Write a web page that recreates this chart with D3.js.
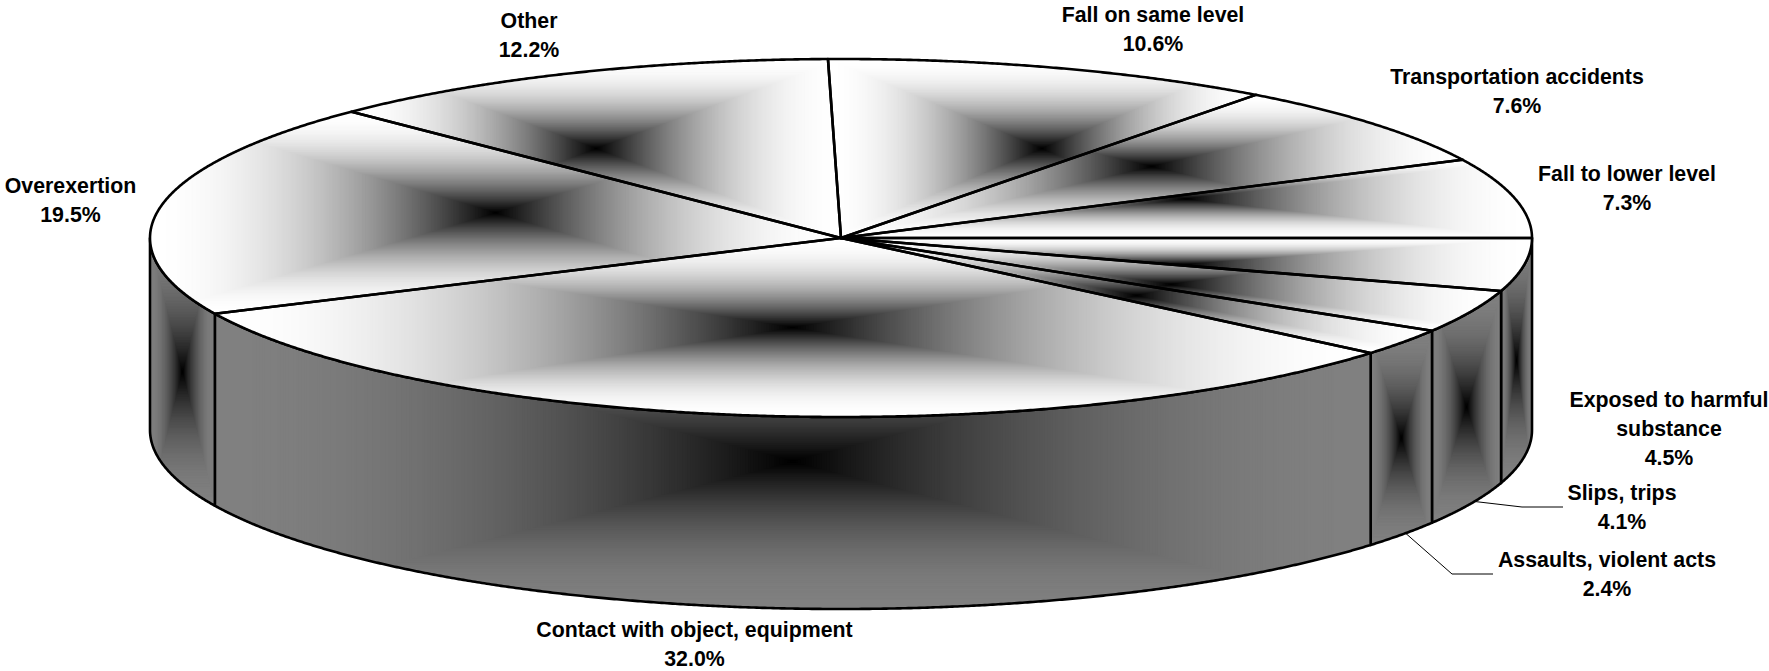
<!DOCTYPE html>
<html>
<head>
<meta charset="utf-8">
<style>html,body{margin:0;padding:0;background:#fff}svg{display:block}</style>
<script src="https://cdnjs.cloudflare.com/ajax/libs/d3/7.8.5/d3.min.js"></script>
</head>
<body>
<script>
// ---- data (clockwise from 3 o'clock) ----
const categories = ["Exposed to harmful substance","Slips, trips","Assaults, violent acts","Contact with object, equipment","Overexertion","Other","Fall on same level","Transportation accidents","Fall to lower level"];
// percentages printed in the labels
const printedShares = [4.5,4.1,2.4,32.0,19.5,12.2,10.6,7.6,7.3];
// wedge sizes as read from the drawn slice boundaries
const drawnShares = [4.78,3.89,2.43,31.95,19.42,12.23,10.55,7.55,7.2];

// ---- layout ----
const W=1769,H=671;
const labelLayout = [
 {x:1669,y:400,lines:["Exposed to harmful","substance"]},
 {x:1622,y:493,lines:["Slips, trips"],elbow:[1522,507],end:1563},
 {x:1607,y:560,lines:["Assaults, violent acts"],elbow:[1452,574],end:1493},
 {x:694.5,y:630,lines:["Contact with object, equipment"]},
 {x:70.5,y:186,lines:["Overexertion"]},
 {x:529,y:21,lines:["Other"]},
 {x:1153,y:15,lines:["Fall on same level"]},
 {x:1517,y:77,lines:["Transportation accidents"]},
 {x:1627,y:174,lines:["Fall to lower level"]}
];
const xS=d3.scaleLinear().domain([-1,1]).range([150,1532]);
const yS=d3.scaleLinear().domain([-1,1]).range([59,417]);
const depth=192, LEVELS=220, STROKE=2.6;

const svg=d3.select("body").append("svg").attr("width",W).attr("height",H).attr("viewBox",`0 0 ${W} ${H}`);
svg.append("rect").attr("width",W).attr("height",H).attr("fill","#fff");
const defs=svg.append("defs");

// d3.pie angles are measured clockwise from 12 o'clock; start at 3 o'clock.
const pie=d3.pie().sort(null).value(d=>d).startAngle(Math.PI/2).endAngle(Math.PI/2+2*Math.PI);
const arcs=pie(drawnShares), labelArcs=pie(printedShares);
const rim=(a,dy=0)=>[xS(Math.sin(a)),yS(-Math.cos(a))+dy];
const line=d3.line();
const sample=(a0,a1,dy=0)=>{
  const n=Math.max(2,Math.ceil(Math.abs(a1-a0)/0.004));
  return d3.range(n+1).map(i=>rim(a0+(a1-a0)*i/n,dy));
};
function bbox(pts){
  const xs=pts.map(p=>p[0]),ys=pts.map(p=>p[1]);
  return {x0:d3.min(xs),x1:d3.max(xs),y0:d3.min(ys),y1:d3.max(ys)};
}
function addFill(g,id,d,box,edge){
  defs.append("clipPath").attr("id",id).append("path").attr("d",d);
  const cx=(box.x0+box.x1)/2,cy=(box.y0+box.y1)/2,hw=(box.x1-box.x0)/2,hh=(box.y1-box.y0)/2;
  g.append("g").attr("clip-path",`url(#${id})`)
   .selectAll("rect").data(d3.range(LEVELS,0,-1)).join("rect")
   .attr("x",t=>cx-hw*t/LEVELS).attr("y",t=>cy-hh*t/LEVELS)
   .attr("width",t=>2*hw*t/LEVELS).attr("height",t=>2*hh*t/LEVELS)
   .attr("fill",t=>{const v=Math.round(edge*d3.easeQuadOut((t-0.5)/LEVELS));return d3.rgb(v,v,v).formatHex();});
}

// walls (front half only)
const wallG=svg.append("g");
arcs.forEach((a,i)=>{
  const a0=a.startAngle,a1=Math.min(a.endAngle,Math.PI*1.5);
  if(a0>=Math.PI*1.5) return;
  const pts=sample(a0,a1).concat(sample(a1,a0,depth));
  const d=line(pts)+"Z";
  addFill(wallG,"w"+i,d,bbox(pts),128);
  wallG.append("path").attr("d",d).attr("fill","none").attr("stroke","#000").attr("stroke-width",STROKE).attr("stroke-linejoin","round");
});

// top slices
const topG=svg.append("g");
arcs.forEach((a,i)=>{
  const pts=[[xS(0),yS(0)]].concat(sample(a.startAngle,a.endAngle));
  addFill(topG,"t"+i,line(pts)+"Z",bbox(pts),255);
});
arcs.forEach(a=>{
  const pts=[[xS(0),yS(0)]].concat(sample(a.startAngle,a.endAngle));
  topG.append("path").attr("d",line(pts)+"Z")
    .attr("fill","none").attr("stroke","#000").attr("stroke-width",STROKE).attr("stroke-linejoin","round");
});

// leader lines start at the mid-angle on the lower rim
const leadG=svg.append("g");
labelArcs.forEach((a,i)=>{
  const L=labelLayout[i];
  if(!L.elbow) return;
  const mid=(a.startAngle+a.endAngle)/2;
  leadG.append("path").attr("d",line([rim(mid,depth),L.elbow,[L.end,L.elbow[1]]]))
    .attr("fill","none").attr("stroke","#000").attr("stroke-width",1);
});

// labels
const fmt=d3.format(".1f");
const lineH=28.6;
const labelG=svg.append("g").attr("font-family","'Liberation Sans',Arial,sans-serif").attr("font-weight",700).attr("font-size",21.33).attr("text-anchor","middle").attr("fill","#000");
categories.forEach((c,i)=>{
  const L=labelLayout[i];
  const lines=L.lines.concat([fmt(printedShares[i])+"%"]);
  labelG.append("text").selectAll("tspan").data(lines).join("tspan")
    .attr("x",L.x).attr("y",(d,j)=>L.y+j*lineH).attr("dy","0.35em").text(d=>d);
});
</script>
</body>
</html>
